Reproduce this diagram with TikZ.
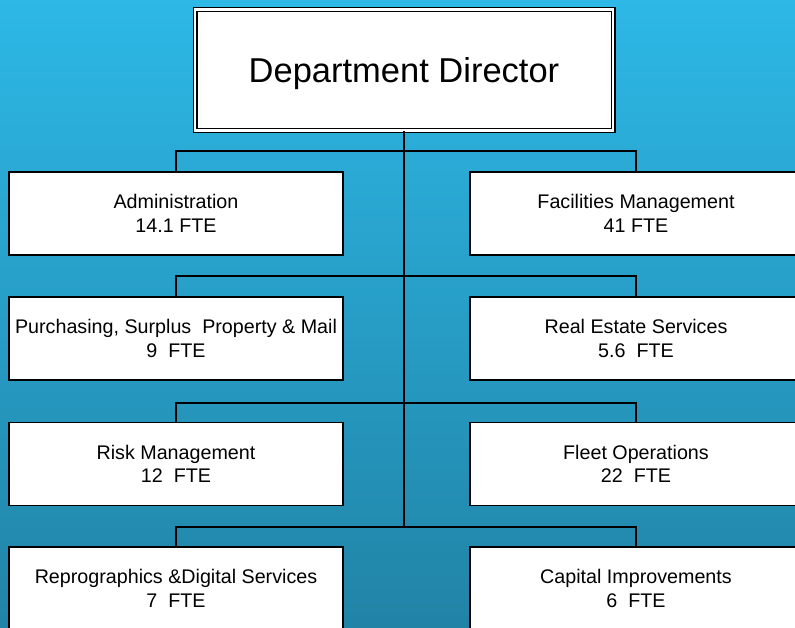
\documentclass[tikz,border=0pt]{standalone}
\usepackage{fontspec}
\setmainfont{Liberation Sans}
\definecolor{bgtop}{RGB}{45,184,230}
\definecolor{bgbot}{RGB}{33,131,166}
\tikzset{
  unitbox/.style={draw=black, line width=1.4pt, fill=white, minimum height=83pt,
    align=center, inner sep=0pt, font=\fontsize{19.7}{23.3}\selectfont},
  leftbox/.style={unitbox, minimum width=334pt},
  rightbox/.style={unitbox, minimum width=332pt},
  dirbox/.style={draw=black, double=white, double distance=2.6pt, line width=1.2pt,
    fill=white, minimum width=418pt, minimum height=121pt, inner sep=0pt,
    text height=24.5pt, text depth=0pt,
    font=\fontsize{34.5}{40}\selectfont},
  conn/.style={draw=black, line width=1.6pt}
}
\begin{document}
\begin{tikzpicture}[x=1pt, y=-1pt]
\useasboundingbox (0,0) rectangle (795,628);
\shade[top color=bgtop, bottom color=bgbot] (0,0) rectangle (795,628);

\node[dirbox] (dir) at (404,70) {Department Director};

\node[leftbox]  (l1) at (176,213.5) {Administration\\14.1 FTE};
\node[rightbox] (r1) at (636,213.5) {Facilities Management\\41 FTE};
\node[leftbox]  (l2) at (176,338.5) {Purchasing, Surplus\ \ Property \& Mail\\9\ \ FTE};
\node[rightbox] (r2) at (636,338.5) {Real Estate Services\\5.6\ \ FTE};
\node[leftbox]  (l3) at (176,464) {Risk Management\\12\ \ FTE};
\node[rightbox] (r3) at (636,464) {Fleet Operations\\22\ \ FTE};
\node[leftbox]  (l4) at (176,588.5) {Reprographics \&Digital Services\\7\ \ FTE};
\node[rightbox] (r4) at (636,588.5) {Capital Improvements\\6\ \ FTE};

\coordinate (j1) at (404,151);
\coordinate (j2) at (404,276);
\coordinate (j3) at (404,403);
\coordinate (j4) at (404,527);

\draw[conn] (dir.south) -- (j4);
\draw[conn] (l1.north) |- (j1) -| (r1.north);
\draw[conn] (l2.north) |- (j2) -| (r2.north);
\draw[conn] (l3.north) |- (j3) -| (r3.north);
\draw[conn] (l4.north) |- (j4) -| (r4.north);
\end{tikzpicture}
\end{document}
